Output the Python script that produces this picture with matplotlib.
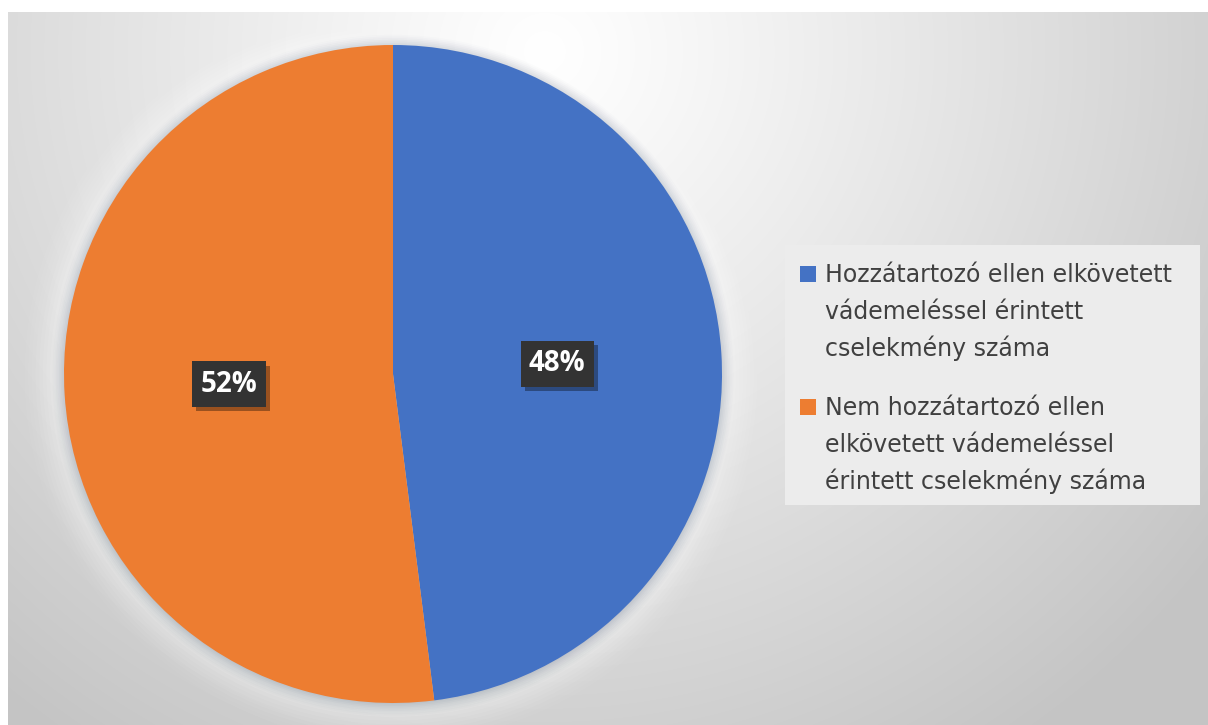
import numpy as np
import matplotlib
matplotlib.use('Agg')
import matplotlib.pyplot as plt
import matplotlib.patheffects as pe
from matplotlib.patches import Rectangle, Circle

labels = ['Hozzátartozó ellen elkövetett\nvádemeléssel érintett\ncselekmény száma',
          'Nem hozzátartozó ellen\nelkövetett vádemeléssel\nérintett cselekmény száma']
shares = [48, 52]
colors = ['#4472C4', '#ED7D31']

W, H = 1208, 725
fig = plt.figure(figsize=(W / 100, H / 100), dpi=100)
fig.patch.set_facecolor('white')

# grey radial background, brightest above the pie
bg = fig.add_axes([8 / W, 0, 1 - 8 / W, 1 - 12 / H])
bg.set_axis_off()
yy, xx = np.mgrid[0:H, 0:W]
d = np.hypot(xx - 540, (yy - 40) * 1.0)
val = 1.0 - 0.23 * np.clip(d / 850.0, 0, 1) ** 1.1
bg.imshow(np.dstack([val, val, val]), aspect='auto', extent=[0, 1, 0, 1])
bg.set_xlim(0, 1)
bg.set_ylim(0, 1)

cx, cy, rad = 393, 374, 329
ax = fig.add_axes([(cx - rad) / W, (H - cy - rad) / H, 2 * rad / W, 2 * rad / H])
ax.set_axis_off()

# soft halo and shadow round the pie
for k, a in zip(np.linspace(1.12, 1.02, 10), np.linspace(0.03, 0.10, 10)):
    ax.add_patch(Circle((0, 0), k, color='white', alpha=a, lw=0, clip_on=False))
for k, a in zip(np.linspace(1.035, 1.0, 8), np.linspace(0.02, 0.07, 8)):
    ax.add_patch(Circle((0, -0.004), k, color='#6f7f95', alpha=a, lw=0, clip_on=False))

wedges, texts = ax.pie(shares, colors=colors, startangle=90, counterclock=False,
                       labels=[f'{s}%' for s in shares], labeldistance=0.5,
                       wedgeprops=dict(linewidth=0))
for w in wedges:
    w.set_clip_on(False)
for t in texts:
    t.set_ha('center')
    t.set_va('center')
    t.set_color('white')
    t.set_fontsize(20)
    t.set_fontweight('bold')
    t.set_fontfamily('Open Sans')
    t.set_zorder(5)
    t.set_bbox(dict(boxstyle='square,pad=0.3', facecolor='#333333', edgecolor='none',
                    path_effects=[pe.SimplePatchShadow(offset=(3, -3), shadow_rgbFace='black',
                                                       alpha=0.35), pe.Normal()]))
ax.set_xlim(-1, 1)
ax.set_ylim(-1, 1)
ax.set_aspect('equal')

# legend drawn by hand so the marker sits on the first line of each entry
def px(x, y):
    return x / W, 1 - y / H

x0, y0, x1, y1 = 785, 245, 1200, 505
fig.patches.append(Rectangle(px(x0, y1), (x1 - x0) / W, (y1 - y0) / H,
                             transform=fig.transFigure, facecolor='#ececec',
                             edgecolor='none', zorder=1))
line_h = 37
baseline = 282
for lab, col in zip(labels, colors):
    lines = lab.split('\n')
    sq = 16
    fig.patches.append(Rectangle(px(800, baseline), sq / W, sq / H,
                                 transform=fig.transFigure, facecolor=col,
                                 edgecolor='none', zorder=2))
    for i, ln in enumerate(lines):
        fig.text(*px(825, baseline + i * line_h), ln, ha='left', va='baseline',
                 fontsize=17, family='DejaVu Sans', color='#404040', zorder=3)
    baseline += len(lines) * line_h + 22

fig.savefig('out.png', dpi=100)
